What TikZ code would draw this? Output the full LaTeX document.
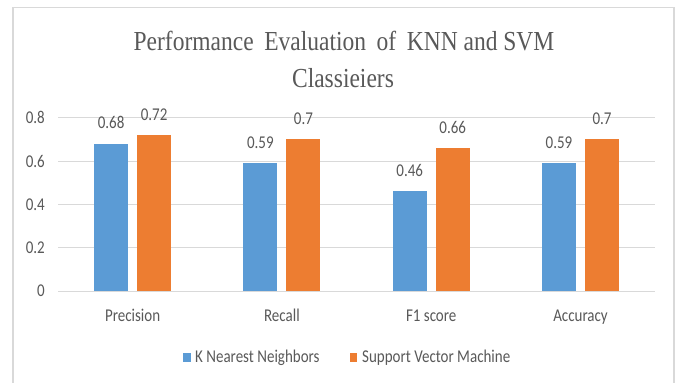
\documentclass[tikz,border=0pt]{standalone}
\usepackage{fontspec}
\setmainfont{Carlito}
\newfontfamily\titlefont{Liberation Serif}
\definecolor{kblue}{HTML}{5B9BD5}
\definecolor{sorange}{HTML}{ED7D31}
\definecolor{gridc}{HTML}{D9D9D9}
\definecolor{txt}{HTML}{595959}
\begin{document}
\begin{tikzpicture}[x=1pt,y=-1pt,
  lbl/.style={text=txt, font=\fontsize{15}{18}\selectfont, inner sep=0pt},
  ttl/.style={text=txt, font=\titlefont\fontsize{23.5}{28}\selectfont, inner sep=0pt},
  grid line/.style={gridc, line width=1pt},
  frame line/.style={gridc, line width=1.5pt}]
\useasboundingbox (0,0) rectangle (678,383);
\fill[white] (0,0) rectangle (678,383);
\draw[frame line] (13,395) -- (13,7.5) -- (674,7.5) -- (674,395);
% title
\node[ttl, anchor=base] (title1) at (344,50) {\scalebox{1}[1.17]{Performance\hspace{0.2em} Evaluation\hspace{0.2em} of\hspace{0.2em} KNN and SVM}};
\node[ttl, anchor=base] (title2) at (343,87) {\scalebox{1}[1.17]{Classieiers}};
% grid and ticks
\foreach \k/\v in {0/0, 1/0.2, 2/0.4, 3/0.6, 4/0.8} {
  \pgfmathsetmacro\yy{291-216.5*\v}
  \draw[grid line] (58,\yy) -- (655,\yy);
  \node[lbl, anchor=east] (tick\k) at (45,\yy) {\scalebox{1}[1.2]{\v}};
}
% bars
\foreach \i/\name/\a/\b in {0/Precision/0.68/0.72, 1/Recall/0.59/0.7, 2/F1 score/0.46/0.66, 3/Accuracy/0.59/0.7} {
  \pgfmathsetmacro\c{132.6+149.3*\i}
  \pgfmathsetmacro\ya{291-216.5*\a}
  \pgfmathsetmacro\yb{291-216.5*\b}
  \fill[kblue] (\c-38.5,291) rectangle (\c-4.5,\ya);
  \fill[sorange] (\c+4.5,291) rectangle (\c+38.5,\yb);
  \node[lbl, anchor=base] (va\i) at (\c-21.5,\ya-15) {\scalebox{1}[1.2]{\a}};
  \node[lbl, anchor=base] (vb\i) at (\c+21.5,\yb-15) {\scalebox{1}[1.2]{\b}};
  \node[lbl, anchor=base] (cat\i) at (\c,321) {\scalebox{1}[1.2]{\name}};
}
% legend
\fill[kblue] (183,353) rectangle (191,362);
\node[lbl, anchor=base west] (leg1) at (195,362) {\scalebox{1}[1.2]{K Nearest Neighbors}};
\fill[sorange] (350,353) rectangle (357,362);
\node[lbl, anchor=base west] (leg2) at (362,362) {\scalebox{1}[1.2]{Support Vector Machine}};
\end{tikzpicture}
\end{document}
